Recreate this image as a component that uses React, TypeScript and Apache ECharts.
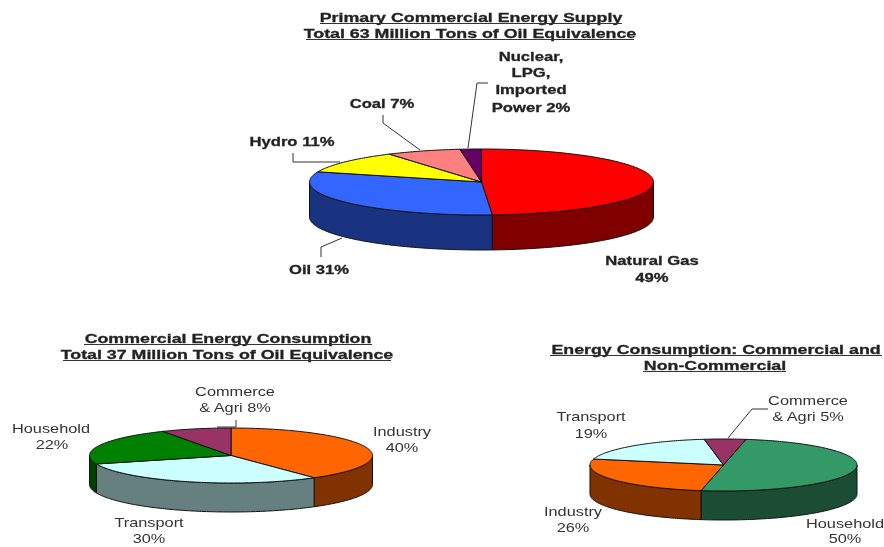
import React, { useEffect, useRef } from "react";
import * as echarts from "echarts";

// ---- data ----
const supplyNames = ["Natural Gas", "Oil", "Hydro", "Coal", "Nuclear, LPG, Imported Power"];
const supplyValues = [49, 31, 11, 7, 2];
const commercialNames = ["Industry", "Transport", "Household", "Commerce & Agri"];
const commercialValues = [40, 30, 22, 8];
const totalNames = ["Household", "Industry", "Transport", "Commerce & Agri"];
const totalValues = [50, 26, 19, 5];

// ---- styles ----
const supplyTop = ["#ff0000", "#3366ff", "#ffff00", "#ff8080", "#660066"];
const supplySide = ["#800000", "#1a3380", "#808000", "#804040", "#330033"];
const commercialTop = ["#ff6600", "#ccffff", "#008000", "#993366"];
const commercialSide = ["#803300", "#668080", "#004000", "#4d1a33"];
const totalTop = ["#339966", "#ff6600", "#ccffff", "#993366"];
const totalSide = ["#1a4d33", "#803300", "#668080", "#4d1a33"];

const BOLD = "bold 13px 'Liberation Sans', Arial, sans-serif";
const REG = "13.5px 'Liberation Sans', Arial, sans-serif";

function pieSeries(
  names: string[],
  values: number[],
  top: string[],
  side: string[],
  g: { cx: number; cy: number; rx: number; ry: number; depth: number; start: number }
) {
  const total = values.reduce((a, b) => a + b, 0);
  const pt = (t: number, dy = 0) => {
    const r = (t * Math.PI) / 180;
    return [g.cx + g.rx * Math.sin(r), g.cy - g.ry * Math.cos(r) + dy];
  };
  const arc = (a: number, b: number, dy = 0) => {
    const out: number[][] = [];
    const n = Math.max(2, Math.ceil(Math.abs(b - a)));
    for (let i = 0; i <= n; i++) out.push(pt(a + ((b - a) * i) / n, dy));
    return out;
  };
  return {
    type: "custom",
    coordinateSystem: "none",
    silent: true,
    data: values.map((value, i) => ({ name: names[i], value })),
    renderItem: (params: any) => {
      const i = params.dataIndex;
      const before = values.slice(0, i).reduce((a, b) => a + b, 0);
      const a0 = g.start + (before / total) * 360;
      const a1 = a0 + (values[i] / total) * 360;
      const children: any[] = [];
      const fa = Math.max(a0, 90);
      const fb = Math.min(a1, 270);
      if (fb > fa) {
        children.push({
          type: "polygon",
          shape: { points: [...arc(fa, fb), ...arc(fb, fa, g.depth)] },
          style: { fill: side[i], stroke: "#111", lineWidth: 1, lineJoin: "round" },
        });
      }
      children.push({
        type: "polygon",
        shape: { points: [[g.cx, g.cy], ...arc(a0, a1)] },
        style: { fill: top[i], stroke: "#111", lineWidth: 1, lineJoin: "round" },
      });
      return { type: "group", children };
    },
  };
}

const txt = (text: string, x: number, y: number, font: string, scaleX: number, fill = "#222") => ({
  type: "text",
  x,
  y,
  scaleX,
  silent: true,
  style: {
    text,
    font,
    fill,
    align: "center",
    verticalAlign: "middle",
    ...(font === BOLD ? { stroke: fill, lineWidth: 0.3 } : {}),
  },
});
const under = (x1: number, x2: number, y: number) => ({
  type: "line",
  silent: true,
  shape: { x1, y1: y, x2, y2: y },
  style: { stroke: "#333", lineWidth: 1 },
});
const leader = (points: number[][]) => ({
  type: "polyline",
  silent: true,
  shape: { points },
  style: { stroke: "#333", fill: "none", lineWidth: 1 },
});

export default function App() {
  const ref = useRef<HTMLDivElement>(null);
  useEffect(() => {
    document.body.style.margin = "0";
    const chart = echarts.init(ref.current!, undefined, { renderer: "svg" });
    const B = 1.28;
    const T = 1.37;
    const R = 1.21;
    chart.setOption({
      animation: false,
      backgroundColor: "#ffffff",
      series: [
        pieSeries(supplyNames, supplyValues, supplyTop, supplySide, { cx: 481.5, cy: 182, rx: 172, ry: 33, depth: 35, start: 0 }),
        pieSeries(commercialNames, commercialValues, commercialTop, commercialSide, { cx: 231, cy: 455.5, rx: 141.5, ry: 27.5, depth: 29, start: 0 }),
        pieSeries(totalNames, totalValues, totalTop, totalSide, { cx: 723.5, cy: 465, rx: 133.5, ry: 26, depth: 29, start: 9.7 }),
      ],
      graphic: [
        txt("Primary Commercial Energy Supply", 471, 17, BOLD, T),
        under(320, 622, 23.5),
        txt("Total 63 Million Tons of Oil Equivalence", 470, 33, BOLD, T),
        under(306, 634, 39.5),
        txt("Nuclear,", 531, 56, BOLD, B),
        txt("LPG,", 531, 72, BOLD, B),
        txt("Imported", 531, 89, BOLD, B),
        txt(`Power ${supplyValues[4]}%`, 531, 107, BOLD, B),
        txt(`Coal ${supplyValues[3]}%`, 382, 103, BOLD, B),
        txt(`Hydro ${supplyValues[2]}%`, 292, 141, BOLD, B),
        txt(`Oil ${supplyValues[1]}%`, 319, 269, BOLD, B),
        txt(supplyNames[0], 652, 260, BOLD, B),
        txt(`${supplyValues[0]}%`, 652, 277, BOLD, B),
        leader([[488, 83], [477, 83], [468, 148]]),
        leader([[383, 115], [383, 123], [420, 150]]),
        leader([[293, 153], [293, 162], [340, 162]]),
        leader([[321, 257], [321, 247], [342, 238]]),

        txt("Commercial Energy Consumption", 228, 338, BOLD, T),
        under(84, 372, 344.5),
        txt("Total 37 Million Tons of Oil Equivalence", 227, 354, BOLD, T),
        under(63, 391, 360.5),
        txt("Commerce", 235, 391, REG, R, "#333"),
        txt(`& Agri ${commercialValues[3]}%`, 235, 407, REG, R, "#333"),
        txt(commercialNames[2], 51, 428, REG, R, "#333"),
        txt(`${commercialValues[2]}%`, 52, 444, REG, R, "#333"),
        txt(commercialNames[0], 402, 431, REG, R, "#333"),
        txt(`${commercialValues[0]}%`, 402, 447, REG, R, "#333"),
        txt(commercialNames[1], 149, 522, REG, R, "#333"),
        txt(`${commercialValues[1]}%`, 149, 538, REG, R, "#333"),
        leader([[236, 420], [236, 427], [217, 427]]),

        txt("Energy Consumption: Commercial and", 716, 349, BOLD, T),
        under(550, 882, 355.5),
        txt("Non-Commercial", 715, 365, BOLD, T),
        under(643, 786, 371.5),
        txt("Commerce", 808, 400, REG, R, "#333"),
        txt(`& Agri ${totalValues[3]}%`, 808, 416, REG, R, "#333"),
        txt(totalNames[2], 591, 416, REG, R, "#333"),
        txt(`${totalValues[2]}%`, 591, 433, REG, R, "#333"),
        txt(totalNames[1], 573, 511, REG, R, "#333"),
        txt(`${totalValues[1]}%`, 573, 527, REG, R, "#333"),
        txt(totalNames[0], 845, 523, REG, R, "#333"),
        txt(`${totalValues[0]}%`, 845, 538.5, REG, R, "#333"),
        leader([[768, 409], [752, 409], [728, 438]]),
      ],
    });
    return () => chart.dispose();
  }, []);
  return <div ref={ref} style={{ width: 884, height: 547, filter: "blur(0.4px)" }} />;
}
